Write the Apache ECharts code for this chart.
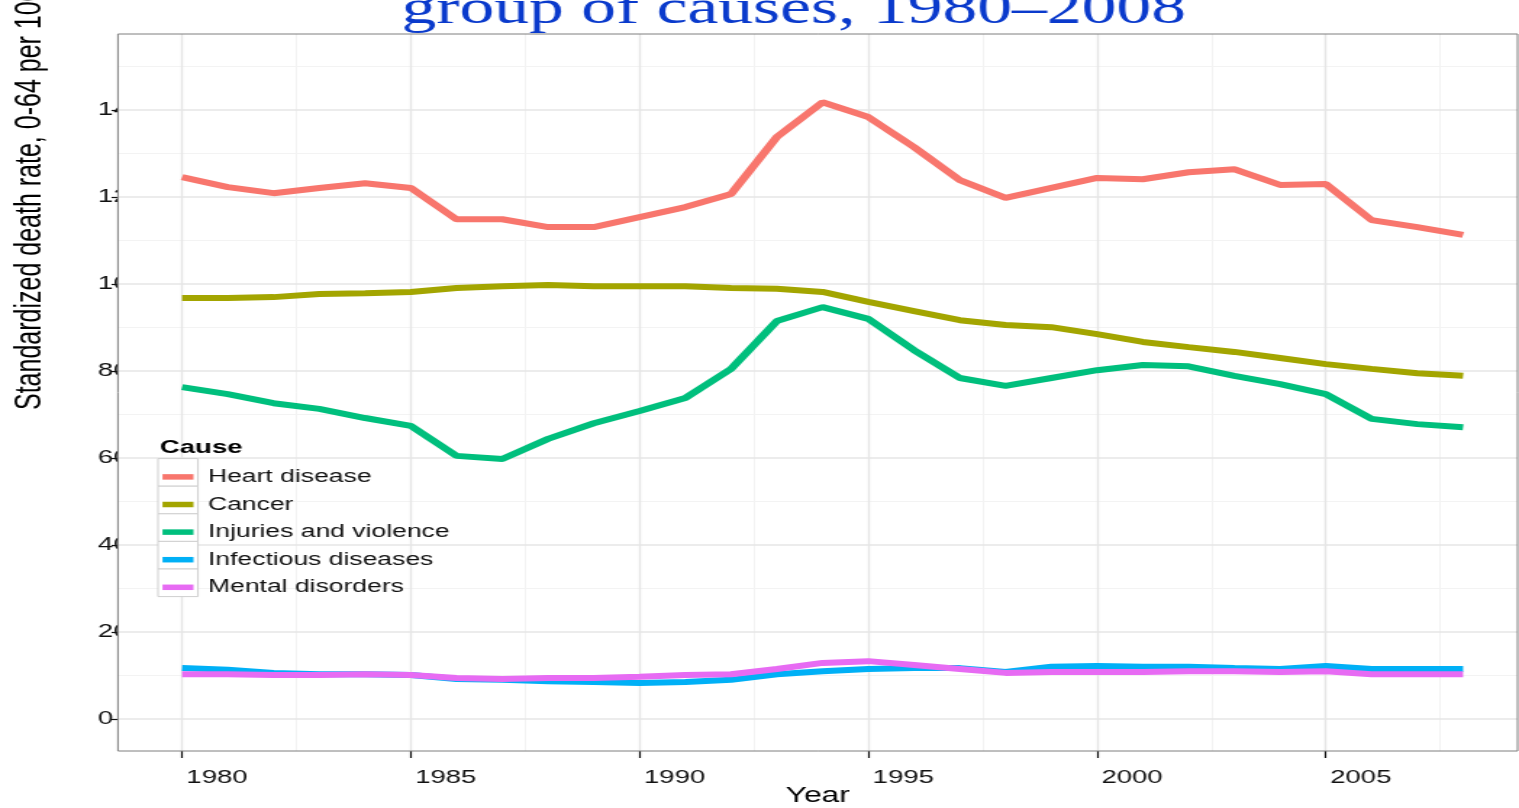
<!DOCTYPE html>
<html>
<head>
<meta charset="utf-8">
<script src="https://cdn.jsdelivr.net/npm/echarts@6/dist/echarts.min.js"></script>
<style>
  html, body { margin: 0; padding: 0; overflow: hidden; background: #fff; }
  /* the reference is a stretched export: draw narrow, then widen */
  #chart { width: 1048px; height: 808px; transform: scaleX(1.4494); transform-origin: 0 0; }
</style>
</head>
<body>
<div id="chart"></div>
<script>
var years = [1980, 1981, 1982, 1983, 1984, 1985, 1986, 1987, 1988, 1989, 1990, 1991, 1992, 1993, 1994,
  1995, 1996, 1997, 1998, 1999, 2000, 2001, 2002, 2003, 2004, 2005, 2006, 2007, 2008];

var heartDisease = [124.6, 122.3, 120.9, 122.1, 123.2, 122.1, 114.9, 114.9, 113.1, 113.1, 115.4, 117.7, 120.7, 133.8, 141.8,
  138.4, 131.5, 123.9, 119.8, 122.1, 124.4, 124.1, 125.7, 126.4, 122.8, 123.0, 114.7, 113.1, 111.3];
var cancer = [96.8, 96.8, 97.0, 97.7, 97.9, 98.2, 99.1, 99.5, 99.8, 99.5, 99.5, 99.5, 99.1, 98.9, 98.2,
  95.9, 93.8, 91.7, 90.6, 90.1, 88.5, 86.7, 85.5, 84.4, 83.0, 81.6, 80.5, 79.5, 78.9];
var injuries = [76.3, 74.7, 72.6, 71.3, 69.2, 67.4, 60.5, 59.8, 64.4, 68.0, 70.8, 73.8, 80.5, 91.5, 94.7,
  92.0, 84.8, 78.4, 76.6, 78.4, 80.2, 81.4, 81.1, 78.9, 77.0, 74.7, 69.0, 67.8, 67.1];
var infectious = [11.7, 11.3, 10.6, 10.3, 10.3, 10.1, 9.2, 9.0, 8.7, 8.5, 8.3, 8.5, 9.0, 10.3, 11.0,
  11.5, 11.7, 11.7, 10.8, 12.0, 12.2, 12.0, 12.0, 11.7, 11.5, 12.2, 11.5, 11.5, 11.5];
var mental = [10.3, 10.3, 10.1, 10.1, 10.3, 10.1, 9.4, 9.2, 9.4, 9.4, 9.7, 10.1, 10.3, 11.5, 12.9,
  13.3, 12.4, 11.5, 10.6, 10.8, 10.8, 10.8, 11.0, 11.0, 10.8, 11.0, 10.3, 10.3, 10.3];

var causeNames = ['Heart disease', 'Cancer', 'Injuries and violence', 'Infectious diseases', 'Mental disorders'];
var causeColors = ['#F8766D', '#A3A500', '#00BF7D', '#00B0F6', '#E76BF3'];
var causeValues = [heartDisease, cancer, injuries, infectious, mental];

var xTicks = [1980, 1985, 1990, 1995, 2000, 2005];
var xMinor = [1982.5, 1987.5, 1992.5, 1997.5, 2002.5, 2007.5];
var yTicks = [0, 20, 40, 60, 80, 100, 120, 140];
var yMinor = [10, 30, 50, 70, 90, 110, 130, 150];

var chart = echarts.init(document.getElementById('chart'));

// plot panel in (unscaled) px
var pL = 81.4, pT = 34, pR = 1047, pB = 751;
var keyTop = 458.6, keyH = 27.6;

var series = causeNames.map(function (name, i) {
  return {
    name: name,
    type: 'line',
    xAxisIndex: 0,
    yAxisIndex: 0,
    showSymbol: false,
    z: 10,
    color: causeColors[i],
    lineStyle: { width: 6, color: causeColors[i] },
    data: years.map(function (y, j) { return [y, causeValues[i][j]]; })
  };
});

var keyBoxes = causeNames.map(function (n, i) {
  return {
    type: 'rect', z: 11,
    shape: { x: 109, y: keyTop + i * keyH, width: keyH, height: keyH },
    style: { fill: '#fff', stroke: '#cfcfcf', lineWidth: 1 }
  };
});

var option = {
  animation: false,
  backgroundColor: '#fff',
  grid: { left: pL, right: 1048 - pR, top: pT, bottom: 808 - pB, outerBoundsMode: 'none' },
  xAxis: [
    {
      type: 'value', min: 1978.6, max: 2009.19, z: 5,
      name: 'Year', nameLocation: 'middle', nameGap: 34, nameMoveOverlap: false,
      nameTextStyle: { fontFamily: 'Liberation Sans', fontSize: 22, color: '#000' },
      axisLine: { show: false, onZero: false },
      axisTick: { show: true, customValues: xTicks, length: 7, lineStyle: { color: '#111', width: 1.2 } },
      axisLabel: {
        customValues: xTicks, margin: 17, align: 'left', padding: [0, 0, 0, 3],
        fontFamily: 'Liberation Sans', fontSize: 19, color: '#111',
        formatter: function (v) { return String(v); }
      },
      splitLine: { show: true, lineStyle: { color: '#e6e6e6', width: 1.4 } }
    },
    {
      type: 'value', min: 1978.6, max: 2009.19, z: 4, position: 'bottom',
      axisLine: { show: false, onZero: false }, axisLabel: { show: false },
      axisTick: { show: false, customValues: xMinor },
      splitLine: { show: true, lineStyle: { color: '#f3f3f3', width: 1 } }
    }
  ],
  yAxis: [
    {
      type: 'value', min: -7.36, max: 157.5, z: 0,
      axisLine: { show: false, onZero: false },
      axisTick: { show: true, customValues: yTicks, length: 4.5, lineStyle: { color: '#111', width: 1.2 } },
      axisLabel: {
        customValues: yTicks, align: 'left', margin: 13.8,
        fontFamily: 'Liberation Sans', fontSize: 19, color: '#111'
      },
      splitLine: { show: false }
    },
    {
      type: 'value', min: -7.36, max: 157.5, z: 5, position: 'left',
      axisLine: { show: false, onZero: false }, axisLabel: { show: false },
      axisTick: { show: false, customValues: yTicks },
      splitLine: { show: true, lineStyle: { color: '#e6e6e6', width: 1.6 } }
    },
    {
      type: 'value', min: -7.36, max: 157.5, z: 4, position: 'left',
      axisLine: { show: false, onZero: false }, axisLabel: { show: false },
      axisTick: { show: false, customValues: yMinor },
      splitLine: { show: true, lineStyle: { color: '#f3f3f3', width: 1 } }
    }
  ],
  legend: {
    orient: 'vertical', left: 112.1, top: keyTop + 4.5, padding: 0, itemGap: 0, z: 12,
    icon: 'rect', itemWidth: 21.4, itemHeight: 5.5,
    data: causeNames,
    textStyle: { fontFamily: 'Liberation Sans', fontSize: 18.3, color: '#111', lineHeight: keyH, padding: [0, 0, 0, 5] }
  },
  graphic: {
    elements: [
      { // panel background, hides the part of the y labels that runs into it
        type: 'rect', z: 1, silent: true,
        shape: { x: pL, y: pT, width: pR - pL, height: pB - pT },
        style: { fill: '#fff' }
      },
      { // panel border
        type: 'rect', z: 30, silent: true,
        shape: { x: pL, y: pT, width: pR - pL, height: pB - pT },
        style: { fill: null, stroke: '#7f7f7f', lineWidth: 1 }
      },
      {
        type: 'text', z: 12, x: 110.3, y: 448,
        style: { text: 'Cause', fontFamily: 'Liberation Sans', fontWeight: 'bold', fontSize: 19, fill: '#000', align: 'left', verticalAlign: 'middle' }
      },
      {
        type: 'text', z: 12, x: 547.6, y: 34,
        style: { text: 'group of causes, 1980\u20132008', fontFamily: 'Liberation Serif', fontSize: 48, fill: '#0a3acc', align: 'center', verticalAlign: 'bottom' }
      },
      {
        type: 'text', z: 12, x: 21.4, y: 410, rotation: Math.PI / 2,
        style: { text: 'Standardized death rate, 0-64 per 100,000', fontFamily: 'Liberation Sans', fontSize: 25, fill: '#000', align: 'left', verticalAlign: 'middle' }
      }
    ].concat(keyBoxes)
  },
  series: series
};

chart.setOption(option);
</script>
</body>
</html>
